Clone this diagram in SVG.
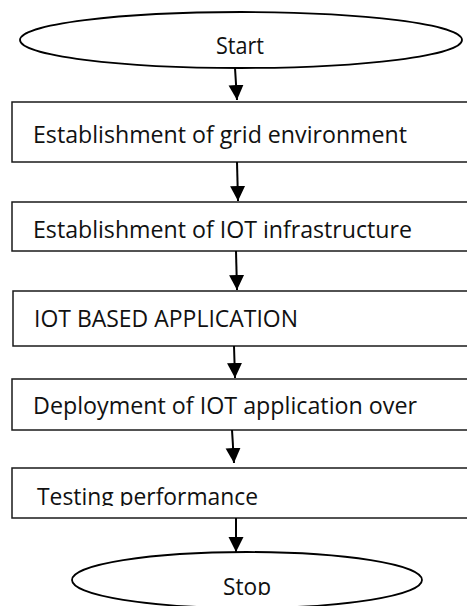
<svg xmlns="http://www.w3.org/2000/svg" width="467" height="606" viewBox="0 0 467 606">
  <style>
    .box { fill: #ffffff; stroke: #1a1a1a; stroke-width: 1.5; }
    .term { fill: #ffffff; stroke: #000000; stroke-width: 1.8; }
    .label { font-family: "Open Sans", "Noto Sans", sans-serif; font-size: 23px; fill: #111111; }
    .flow { stroke: #000000; stroke-width: 2; fill: none; marker-end: url(#head); }
  </style>
  <defs>
    <marker id="head" markerUnits="userSpaceOnUse" markerWidth="16" markerHeight="16" viewBox="0 0 16 16" refX="15" refY="8" orient="auto">
      <path d="M0,0.5 L15,8 L0,15.5 Z" fill="#000000"/>
    </marker>
    <clipPath id="clip-test"><rect x="0" y="460" width="467" height="46"/></clipPath>
    <clipPath id="clip-stop"><rect x="0" y="550" width="467" height="45"/></clipPath>
  </defs>

  <g id="start">
    <ellipse class="term" cx="241" cy="40" rx="221" ry="28"/>
    <text class="label" x="216" y="54" textLength="48" lengthAdjust="spacingAndGlyphs">Start</text>
  </g>

  <g id="grid-env">
    <rect class="box" x="12" y="102" width="460" height="60"/>
    <text class="label" x="33" y="143" textLength="374" lengthAdjust="spacingAndGlyphs">Establishment of grid environment</text>
  </g>

  <g id="iot-infra">
    <rect class="box" x="12" y="202" width="460" height="49"/>
    <text class="label" x="33" y="238" textLength="379" lengthAdjust="spacingAndGlyphs">Establishment of IOT infrastructure</text>
  </g>

  <g id="iot-app">
    <rect class="box" x="13" y="291" width="460" height="55"/>
    <text class="label" x="34" y="327" textLength="264" lengthAdjust="spacingAndGlyphs">IOT BASED APPLICATION</text>
  </g>

  <g id="deploy">
    <rect class="box" x="12" y="379" width="460" height="51"/>
    <text class="label" x="33" y="414" textLength="384" lengthAdjust="spacingAndGlyphs">Deployment of IOT application over</text>
  </g>

  <g id="testing">
    <rect class="box" x="12" y="468" width="460" height="50"/>
    <text class="label" x="37" y="505" textLength="221" lengthAdjust="spacingAndGlyphs" clip-path="url(#clip-test)">Testing performance</text>
  </g>

  <g id="stop">
    <ellipse class="term" cx="247" cy="580" rx="175" ry="28"/>
    <text class="label" x="223" y="595" textLength="48" lengthAdjust="spacingAndGlyphs" clip-path="url(#clip-stop)">Stop</text>
  </g>

  <g id="connectors">
    <line class="flow" x1="235" y1="68" x2="237" y2="100"/>
    <line class="flow" x1="237" y1="162" x2="238" y2="201"/>
    <line class="flow" x1="236" y1="251" x2="237" y2="290"/>
    <line class="flow" x1="234" y1="346" x2="235" y2="378"/>
    <line class="flow" x1="232" y1="430" x2="234" y2="463"/>
    <line class="flow" x1="236" y1="518" x2="236" y2="552"/>
  </g>
</svg>
